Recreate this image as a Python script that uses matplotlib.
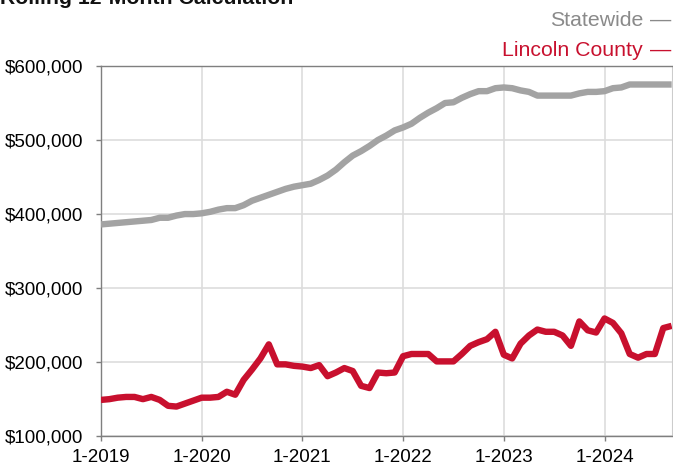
import matplotlib.pyplot as plt
import matplotlib.ticker as mticker

plt.rcParams['font.family'] = ['Liberation Sans', 'DejaVu Sans']

# monthly values, Jan 2019 .. Sep 2024 (in $1,000)
statewide = [386, 387, 388, 389, 390, 391, 392, 395, 395, 398, 400, 400,
             401, 403, 406, 408, 408, 412, 418, 422, 426, 430, 434, 437,
             439, 441, 446, 452, 460, 470, 479, 485, 492, 500, 506, 513,
             517, 522, 530, 537, 543, 550, 551, 557, 562, 566, 566, 570,
             571, 570, 567, 565, 560, 560, 560, 560, 560, 563, 565, 565,
             566, 570, 571, 575, 575, 575, 575, 575, 575]
lincoln = [149, 150, 152, 153, 153, 150, 153, 149, 141, 140, 144, 148,
           152, 152, 153, 160, 156, 176, 190, 205, 224, 197, 197, 195,
           194, 192, 196, 181, 186, 192, 188, 168, 165, 186, 185, 186,
           208, 211, 211, 211, 201, 201, 201, 211, 222, 227, 231, 241,
           210, 205, 225, 236, 244, 241, 241, 236, 222, 255, 243, 240,
           259, 253, 239, 211, 206, 211, 211, 246, 249]
tick_labels = ['1-2019', '1-2020', '1-2021', '1-2022', '1-2023', '1-2024']

gray = '#a3a3a3'
red = '#c8102e'

fig = plt.figure(figsize=(6.73, 4.68), dpi=100)
ax = fig.add_axes([0.150, 0.068, 0.848, 0.791])

months = list(range(len(statewide)))
ax.plot(months, [v * 1000 for v in statewide], color=gray, lw=4.6,
        solid_capstyle='butt', zorder=3)
ax.plot(months, [v * 1000 for v in lincoln], color=red, lw=4.6,
        solid_capstyle='butt', zorder=3)

ax.set_xlim(0, 68)
ax.set_ylim(100000, 600000)
ax.set_xticks([12 * i for i in range(len(tick_labels))])
ax.set_xticklabels(tick_labels)
ax.set_yticks(range(100000, 600001, 100000))
ax.yaxis.set_major_formatter(mticker.FuncFormatter(lambda v, p: '${:,.0f}'.format(v)))

ax.grid(True, color='#dddddd', lw=1.2, zorder=0)
for side in ['left', 'bottom', 'top']:
    ax.spines[side].set_color('#7f7f7f')
    ax.spines[side].set_linewidth(1.0)
ax.spines['right'].set_color('#cccccc')
ax.tick_params(axis='both', colors='#7f7f7f', length=3.8, width=1,
               labelcolor='black')
ax.tick_params(axis='y', pad=9, labelsize=13.5)
ax.tick_params(axis='x', pad=5.5, labelsize=13.5)

fig.text(0.0, 1 - 4 / 468, 'Rolling 12-Month Calculation', fontsize=15.3,
         fontweight='bold', ha='left', va='baseline', color='#111111')

# legend: label text, then a short dash in the series colour
fig.text(643 / 673, 1 - 26 / 468, 'Statewide', fontsize=15.3, color='#8a8a8a',
         ha='right', va='baseline')
fig.text(0.997, 1 - 26 / 468, '\u2014', fontsize=15.3, color='#8a8a8a',
         ha='right', va='baseline')
fig.text(643 / 673, 1 - 56 / 468, 'Lincoln County', fontsize=15.3, color=red,
         ha='right', va='baseline')
fig.text(0.997, 1 - 56 / 468, '\u2014', fontsize=15.3, color=red,
         ha='right', va='baseline')

fig.savefig('out.png', dpi=100)
